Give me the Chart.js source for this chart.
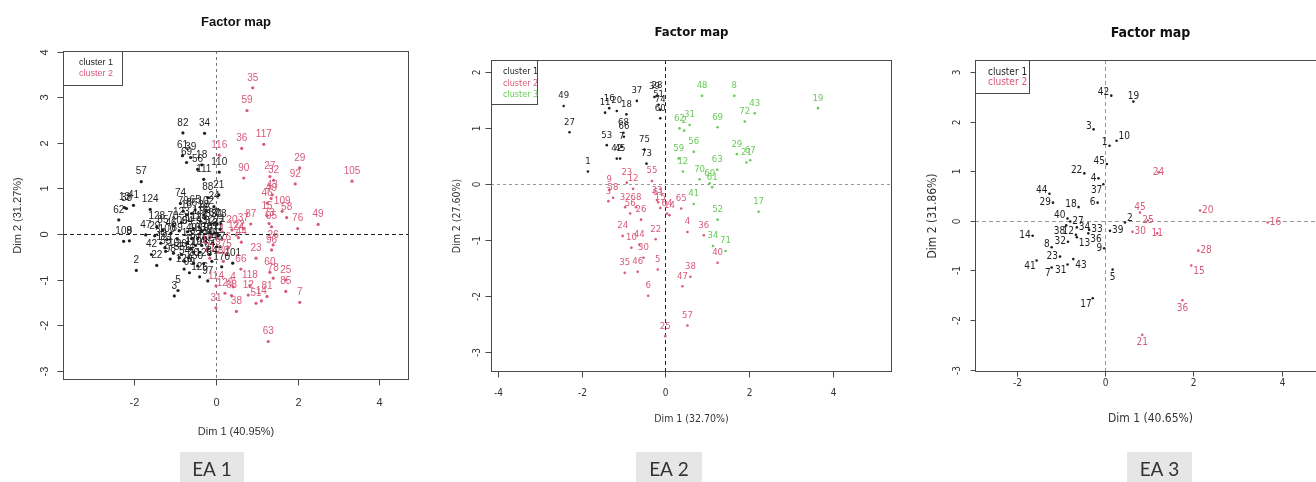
<!DOCTYPE html>
<html>
<head>
<meta charset="utf-8">
<script src="https://cdn.jsdelivr.net/npm/chart.js@4.4.1/dist/chart.umd.min.js"></script>
<style>
html,body{margin:0;padding:0;background:#fff;width:1316px;height:482px;overflow:hidden;position:relative}
canvas{position:absolute;top:0}
</style>
</head>
<body>
<canvas id="c1" width="440" height="482" style="left:0px;width:440px;height:482px"></canvas>
<canvas id="c2" width="456" height="482" style="left:440px;width:456px;height:482px"></canvas>
<canvas id="c3" width="440" height="482" style="left:896px;width:440px;height:482px"></canvas>
<script>
// ---------------- DATA ----------------
// [individual label, Dim 1, Dim 2]
const ea1Cluster1 = [
 ["82",-0.81,2.22],["34",-0.28,2.21],["61",-0.82,1.72],["39",-0.62,1.68],["69",-0.72,1.57],["18",-0.35,1.52],
 ["56",-0.45,1.42],["110",0.08,1.36],["111",-0.30,1.20],["57",-1.83,1.15],["88",-0.20,0.80],["21",0.07,0.86],
 ["124",-1.61,0.54],["13",-2.24,0.58],["38",-2.19,0.56],["41",-2.02,0.63],["62",-2.38,0.31],["108",-2.26,-0.16],
 ["9",-2.12,-0.15],["2",-1.95,-0.80],["5",-0.93,-1.24],["3",-1.02,-1.36],["22",-1.45,-0.69],["42",-1.58,-0.45],
 ["47",-1.72,-0.02],["128",-1.45,0.16],["74",-0.87,0.67],["79",-0.80,0.50],["65",-0.51,0.53],["16",-0.72,0.42],
 ["66",-0.60,0.45],["24",-0.05,0.60],["86",-0.27,0.35],["67",-0.05,0.24],["78",0.12,0.22],["106",-0.90,0.07],
 ["112",-0.55,0.12],["113",-0.42,0.16],["115",-0.38,0.28],["100",-1.20,-0.12],["29",-1.50,-0.04],["53",-1.23,-0.38],
 ["10",-1.04,-0.42],["54",-0.77,-0.60],["120",-0.78,-0.77],["14",-0.66,-0.52],["20",-0.55,-0.64],["17",-0.62,-0.33],
 ["104",-0.40,-0.40],["19",-0.30,-0.10],["32",-0.15,0.05],["44",-0.08,-0.20],["45",0.02,-0.28],["52",-0.20,-0.32],
 ["11",0.05,-0.05],["71",0.10,0.10],["77",0.10,-0.28],["89",-0.95,-0.10],["93",-0.35,0.05],["130",-0.25,-0.18],
 ["97",-0.20,-1.03],["126",-0.40,-0.94],["101",0.41,-0.64],["170",0.14,-0.72],["15",-0.70,-0.20],["26",-0.85,-0.45],
 ["28",-0.30,0.42],["30",-1.35,-0.20],["33",-0.12,0.22],["40",-0.60,-0.10],["46",-1.10,0.02],["50",-0.45,-0.70],
 ["55",-0.90,-0.52],["64",-0.15,-0.45],["70",-1.05,0.18],["72",-0.35,-0.25],["83",-0.50,-0.25],["84",-0.10,-0.60],
 ["85",-1.30,0.08],["91",0.03,0.22],["94",-0.70,0.05],["98",-1.12,-0.55],["99",-0.65,-0.85],["102",-0.25,0.50],
 ["103",-0.45,-0.10],["107",-0.15,-0.08],["119",-0.55,-0.40],["121",-1.25,-0.30],["123",-0.85,0.25],["125",-0.30,-0.65],
 ["127",-0.02,0.02]
];
const ea1Cluster2 = [
 ["35",0.90,3.21],["59",0.76,2.71],["117",1.17,1.97],["36",0.63,1.88],["116",0.08,1.73],["29",2.05,1.45],
 ["90",0.68,1.23],["27",1.32,1.26],["32",1.41,1.18],["92",1.94,1.10],["105",3.33,1.16],["43",1.38,0.86],
 ["46",1.25,0.68],["40",1.35,0.78],["109",1.62,0.50],["58",1.73,0.36],["15",1.25,0.40],["76",2.00,0.12],
 ["49",2.50,0.21],["87",0.85,0.22],["73",1.30,0.23],["95",1.36,0.16],["37",0.67,0.12],["20",0.39,0.09],
 ["122",0.50,-0.02],["24",0.55,-0.08],["44",0.62,-0.18],["26",1.40,-0.24],["96",1.36,-0.35],["23",0.98,-0.53],
 ["66",0.61,-0.77],["60",1.32,-0.84],["78",1.40,-0.97],["25",1.71,-1.01],["85",1.71,-1.26],["7",2.05,-1.50],
 ["118",0.83,-1.13],["12",0.79,-1.34],["81",1.25,-1.37],["51",0.98,-1.52],["14",1.11,-1.47],["38",0.50,-1.70],
 ["63",1.28,-2.36],["31",0.00,-1.62],["4",0.42,-1.16],["129",0.22,-1.30],["68",0.38,-1.35],["114",0.00,-1.14],
 ["9",0.05,-0.40],["1",0.15,-0.12],["6",0.30,-0.30],["75",0.25,-0.45],["80",0.18,-0.60],["17",-0.22,-0.36],["71",-0.15,-0.53]
];
const ea2Cluster1 = [
 ["49",-2.43,1.40],["27",-2.29,0.93],["1",-1.85,0.23],["11",-1.44,1.28],["16",-1.34,1.36],["20",-1.16,1.31],
 ["18",-0.93,1.25],["37",-0.68,1.49],["39",-0.26,1.56],["28",-0.20,1.58],["51",-0.16,1.42],["74",-0.12,1.33],
 ["60",-0.12,1.18],["53",-1.40,0.70],["66",-0.99,0.85],["68",-1.00,0.92],["42",-1.16,0.46],["45",-1.08,0.46],
 ["7",-1.04,0.67],["75",-0.50,0.62],["73",-0.45,0.37]
];
const ea2Cluster2 = [
 ["23",-0.92,0.03],["12",-0.77,-0.08],["9",-1.34,-0.10],["3",-1.36,-0.30],["58",-1.25,-0.24],["55",-0.32,0.06],
 ["33",-0.20,-0.28],["32",-0.96,-0.41],["68",-0.70,-0.41],["56",-0.84,-0.52],["26",-0.58,-0.63],["61",-0.17,-0.32],
 ["15",-0.12,-0.42],["64",0.04,-0.52],["14",0.10,-0.55],["65",0.38,-0.43],["24",-1.02,-0.92],["10",-0.81,-1.13],
 ["44",-0.62,-1.08],["30",-0.52,-1.31],["22",-0.23,-0.98],["4",0.53,-0.85],["36",0.92,-0.91],["35",-0.97,-1.58],
 ["46",-0.66,-1.56],["5",-0.18,-1.52],["40",1.25,-1.40],["38",0.60,-1.65],["47",0.41,-1.82],["6",-0.41,-1.99],
 ["57",0.53,-2.52],["25",0.00,-2.71]
];
const ea2Cluster3 = [
 ["48",0.88,1.58],["8",1.65,1.58],["19",3.65,1.36],["43",2.14,1.27],["72",1.90,1.12],["62",0.34,1.00],
 ["2",0.45,0.96],["31",0.58,1.06],["69",1.25,1.02],["56",0.68,0.58],["59",0.32,0.46],["12",0.42,0.23],
 ["63",1.24,0.26],["70",0.82,0.09],["60",1.06,0.02],["61",1.12,-0.05],["29",1.71,0.54],["21",1.94,0.39],
 ["67",2.03,0.43],["41",0.68,-0.35],["17",2.23,-0.49],["52",1.25,-0.63],["34",1.14,-1.10],["71",1.44,-1.19]
];
const ea3Cluster1 = [
 ["42",0.14,2.53],["19",0.64,2.41],["3",-0.26,1.85],["1",0.10,1.52],["10",0.26,1.62],["45",0.04,1.15],
 ["22",-0.47,0.96],["4",-0.15,0.86],["37",-0.04,0.74],["44",-1.26,0.55],["29",-1.18,0.37],["18",-0.60,0.28],
 ["6",-0.17,0.37],["40",-0.85,0.05],["27",-0.79,-0.01],["2",0.45,-0.03],["39",0.11,-0.20],["33",-0.36,-0.18],
 ["34",-0.64,-0.13],["12",-0.66,-0.28],["38",-0.88,-0.09],["36",-0.38,-0.25],["13",-0.64,-0.33],["14",-1.64,-0.30],
 ["8",-1.21,-0.53],["32",-0.84,-0.42],["9",-0.02,-0.55],["23",-1.02,-0.72],["41",-1.55,-0.80],["7",-1.21,-0.94],
 ["31",-0.85,-0.88],["43",-0.72,-0.77],["5",0.17,-0.98],["17",-0.28,-1.56]
];
const ea3Cluster2 = [
 ["24",1.21,0.98],["45",0.79,0.17],["25",0.97,0.01],["20",2.15,0.21],["16",3.68,-0.03],["30",0.62,-0.22],
 ["11",1.18,-0.25],["28",2.11,-0.60],["15",1.95,-0.90],["36",1.75,-1.60],["21",0.84,-2.30]
];

const ea1XTicks = [-2, 0, 2, 4];
const ea1YTicks = [-3, -2, -1, 0, 1, 2, 3, 4];
const ea2XTicks = [-4, -2, 0, 2, 4];
const ea2YTicks = [-3, -2, -1, 0, 1, 2];
const ea3XTicks = [-2, 0, 2, 4];
const ea3YTicks = [-3, -2, -1, 0, 1, 2, 3];

const clusterNames = ["cluster 1", "cluster 2", "cluster 3"];
const panelNames = ["EA 1", "EA 2", "EA 3"];
const xTitles = ["Dim 1 (40.95%)", "Dim 1 (32.70%)", "Dim 1 (40.65%)"];
const yTitles = ["Dim 2 (31.27%)", "Dim 2 (27.60%)", "Dim 2 (31.86%)"];
const chartTitle = "Factor map";

// ---------------- STYLE ----------------
const SANS = '"Liberation Sans", Arial, Helvetica, sans-serif';
const NARROW = '"Liberation Sans Narrow", "Arial Narrow", "DejaVu Sans Condensed", "Liberation Sans", sans-serif';
const LATO = 'Lato, "Open Sans", sans-serif';
const BLACK = '#1e1e1e', PINK = '#D85A7A', GREEN = '#68CB58';

// label placement for EA 3 (labels repelled around points)
const ea3Sides = [
 {"42":"lt","19":"t","3":"lt","1":"lt","10":"rt","45":"lt","22":"lt","4":"l","37":"lb","44":"lt","29":"l","18":"lt",
  "6":"l","40":"lt","27":"r","2":"rt","39":"r","33":"r","34":"r","12":"lt","38":"lb","36":"rb","13":"rb","14":"l",
  "8":"lt","32":"l","9":"l","23":"l","41":"lb","7":"lb","31":"lb","43":"rb","5":"b","17":"lb"},
 {"24":"c","45":"t","25":"c","20":"r","16":"r","30":"r","11":"c","28":"r","15":"rb","36":"b","21":"b"}
];

function sideOffset(side, st) {
  switch (side) {
    case 'l': return {a:'right', dx:-st.gap, dy:0};
    case 'lt': return {a:'right', dx:-st.gap, dy:-3};
    case 'lb': return {a:'right', dx:-st.gap+1, dy:6};
    case 'r': return {a:'left', dx:st.gap, dy:0};
    case 'rt': return {a:'left', dx:st.gap, dy:-4};
    case 'rb': return {a:'left', dx:st.gap, dy:6};
    case 'b': return {a:'center', dx:0, dy:st.drop};
    case 'c': return {a:'center', dx:0, dy:0};
    default: return {a:'center', dx:0, dy:-st.lift};
  }
}

function makePlugin(st) {
  return {
    id: 'factorMap' + st.idx,
    beforeDatasetsDraw(chart) {
      const ctx = chart.ctx, ca = chart.chartArea, xs = chart.scales.x, ys = chart.scales.y;
      ctx.save();
      ctx.lineWidth = 1;
      const y0 = Math.round(ys.getPixelForValue(0)) + 0.5;
      ctx.setLineDash(st.hDash); ctx.strokeStyle = st.hColor;
      ctx.beginPath(); ctx.moveTo(ca.left, y0); ctx.lineTo(ca.right, y0); ctx.stroke();
      const x0 = Math.round(xs.getPixelForValue(0)) + 0.5;
      ctx.setLineDash(st.vDash); ctx.strokeStyle = st.vColor;
      ctx.beginPath(); ctx.moveTo(x0, ca.top); ctx.lineTo(x0, ca.bottom); ctx.stroke();
      ctx.restore();
    },
    afterDatasetsDraw(chart) {
      const ctx = chart.ctx, ca = chart.chartArea, xs = chart.scales.x, ys = chart.scales.y;
      // point labels
      ctx.save();
      ctx.beginPath(); ctx.rect(ca.left, ca.top, ca.right - ca.left, ca.bottom - ca.top); ctx.clip();
      ctx.font = st.labelFont; ctx.textBaseline = 'middle';
      chart.data.datasets.forEach((ds, di) => {
        const meta = chart.getDatasetMeta(di);
        ctx.fillStyle = ds.borderColor;
        meta.data.forEach((el, i) => {
          const id = ds.data[i].id;
          const side = st.sides && st.sides[di] && st.sides[di][id] ? st.sides[di][id] : 't';
          const o = sideOffset(side, st);
          ctx.textAlign = o.a;
          ctx.fillText(id, el.x + o.dx, el.y + o.dy);
        });
      });
      ctx.restore();

      ctx.save();
      // box
      ctx.strokeStyle = '#4a4a4a'; ctx.lineWidth = 1;
      ctx.strokeRect(Math.round(ca.left) + 0.5, Math.round(ca.top) + 0.5,
                     Math.round(ca.right - ca.left) - 1, Math.round(ca.bottom - ca.top) - 1);
      // ticks
      const xt = (xs.ticks && xs.ticks.length ? xs.ticks.map(t => t.value) : st.xTicks);
      const yt = (ys.ticks && ys.ticks.length ? ys.ticks.map(t => t.value) : st.yTicks);
      ctx.fillStyle = '#333'; ctx.font = st.tickFont;
      ctx.textAlign = 'center'; ctx.textBaseline = 'middle';
      const bottom = Math.round(ca.bottom) - 0.5, left = Math.round(ca.left) + 0.5;
      xt.forEach(v => {
        const px = Math.round(xs.getPixelForValue(v)) + 0.5;
        ctx.beginPath(); ctx.moveTo(px, bottom); ctx.lineTo(px, bottom + st.tickLen); ctx.stroke();
        ctx.fillText(String(v), px, ca.bottom + st.xLabelOff);
      });
      yt.forEach(v => {
        const py = Math.round(ys.getPixelForValue(v)) + 0.5;
        ctx.beginPath(); ctx.moveTo(left - st.tickLen, py); ctx.lineTo(left, py); ctx.stroke();
        ctx.save(); ctx.translate(ca.left - st.yLabelOff, py); ctx.rotate(-Math.PI / 2);
        ctx.fillText(String(v), 0, 0); ctx.restore();
      });
      // axis titles
      const cx = (ca.left + ca.right) / 2, cy = (ca.top + ca.bottom) / 2;
      ctx.font = st.axisFont; ctx.fillStyle = '#333';
      ctx.fillText(st.xTitle, cx, ca.bottom + st.xTitleOff);
      ctx.save(); ctx.translate(ca.left - st.yTitleOff, cy); ctx.rotate(-Math.PI / 2);
      ctx.fillText(st.yTitle, 0, 0); ctx.restore();
      // main title
      ctx.font = st.titleFont; ctx.fillStyle = '#111';
      ctx.fillText(chartTitle, cx, ca.top - st.titleOff);
      // legend
      const lg = st.legend;
      ctx.fillStyle = '#fff';
      ctx.fillRect(ca.left, ca.top, lg.w, lg.h);
      ctx.strokeStyle = '#4a4a4a';
      ctx.strokeRect(Math.round(ca.left) + 0.5, Math.round(ca.top) + 0.5, lg.w, lg.h);
      ctx.font = st.legendFont; ctx.textAlign = 'left';
      chart.data.datasets.forEach((ds, di) => {
        ctx.fillStyle = ds.borderColor;
        ctx.fillText(ds.label, ca.left + lg.dx, ca.top + lg.dy + di * lg.step);
      });
      // panel tag
      ctx.fillStyle = '#e6e6e6';
      ctx.fillRect(st.tag.x - st.L, 452, st.tag.w, 40);
      ctx.fillStyle = '#333'; ctx.font = '19px ' + LATO; ctx.textAlign = 'center';
      ctx.fillText(st.tag.text, st.tag.x - st.L + st.tag.w / 2, 470);
      ctx.restore();
    }
  };
}

function makeChart(id, clusters, colors, st) {
  const datasets = clusters.map((pts, k) => ({
    label: clusterNames[k],
    data: pts.map(p => ({x: p[1], y: p[2], id: p[0]})),
    backgroundColor: colors[k], borderColor: colors[k],
    pointRadius: st.dotR, pointHoverRadius: st.dotR, borderWidth: 0, pointStyle: 'circle'
  }));
  return new Chart(document.getElementById(id), {
    type: 'scatter',
    data: {datasets},
    options: {
      responsive: false, animation: false, devicePixelRatio: 1, events: [],
      layout: {padding: st.padding},
      scales: {
        x: {type: 'linear', display: false, min: st.xRange[0], max: st.xRange[1],
            afterBuildTicks: s => { s.ticks = st.xTicks.map(v => ({value: v})); }},
        y: {type: 'linear', display: false, min: st.yRange[0], max: st.yRange[1],
            afterBuildTicks: s => { s.ticks = st.yTicks.map(v => ({value: v})); }}
      },
      plugins: {legend: {display: false}, tooltip: {enabled: false}, title: {display: false}}
    },
    plugins: [makePlugin(st)]
  });
}

makeChart('c1', [ea1Cluster1, ea1Cluster2], [BLACK, PINK], {
  idx: 1, L: 0, padding: {left: 63, right: 31, top: 51, bottom: 102},
  xRange: [-3.745, 4.725], yRange: [-3.205, 4.018], xTicks: ea1XTicks, yTicks: ea1YTicks,
  dotR: 1.6, lift: 10, gap: 2, drop: 8,
  labelFont: '10px ' + SANS, tickFont: '11px ' + SANS, axisFont: '11px ' + SANS,
  titleFont: 'bold 13px ' + SANS, legendFont: '9px ' + SANS,
  hDash: [4, 3], hColor: '#222', vDash: [3, 3], vColor: '#777',
  tickLen: 6, xLabelOff: 23, yLabelOff: 18, xTitleOff: 52, yTitleOff: 45, titleOff: 29,
  legend: {w: 59, h: 34, dx: 16, dy: 12, step: 11},
  xTitle: xTitles[0], yTitle: yTitles[0], tag: {x: 180, w: 64, text: panelNames[0]}
});

makeChart('c2', [ea2Cluster1, ea2Cluster2, ea2Cluster3], [BLACK, PINK, GREEN], {
  idx: 2, L: 440, padding: {left: 51, right: 4, top: 60, bottom: 110},
  xRange: [-4.167, 5.42], yRange: [-3.35, 2.22], xTicks: ea2XTicks, yTicks: ea2YTicks,
  dotR: 1.3, lift: 10, gap: 2, drop: 8,
  labelFont: '9.5px ' + NARROW, tickFont: '10px ' + NARROW, axisFont: '10.5px ' + NARROW,
  titleFont: 'bold 13px ' + NARROW, legendFont: '9px ' + NARROW,
  hDash: [3, 3], hColor: '#999', vDash: [4, 3], vColor: '#222',
  tickLen: 6, xLabelOff: 21, yLabelOff: 14, xTitleOff: 47, yTitleOff: 34, titleOff: 27,
  legend: {w: 46, h: 44, dx: 12, dy: 12, step: 11.3},
  xTitle: xTitles[1], yTitle: yTitles[1], tag: {x: 636, w: 66, text: panelNames[1]}
});

makeChart('c3', [ea3Cluster1, ea3Cluster2], [BLACK, PINK], {
  idx: 3, L: 896, padding: {left: 79, right: 10, top: 60, bottom: 110},
  xRange: [-2.945, 5.0], yRange: [-3.05, 3.25], xTicks: ea3XTicks, yTicks: ea3YTicks,
  dotR: 1.3, lift: 5, gap: 2, drop: 8, sides: ea3Sides,
  labelFont: '10px ' + NARROW, tickFont: '10px ' + NARROW, axisFont: '12px ' + NARROW,
  titleFont: 'bold 14px ' + NARROW, legendFont: '10px ' + NARROW,
  hDash: [4, 3], hColor: '#999', vDash: [4, 3], vColor: '#999',
  tickLen: 5, xLabelOff: 11, yLabelOff: 18, xTitleOff: 47, yTitleOff: 42, titleOff: 27,
  legend: {w: 54, h: 33, dx: 13, dy: 12, step: 10},
  xTitle: xTitles[2], yTitle: yTitles[2], tag: {x: 1127, w: 65, text: panelNames[2]}
});
</script>
</body>
</html>
